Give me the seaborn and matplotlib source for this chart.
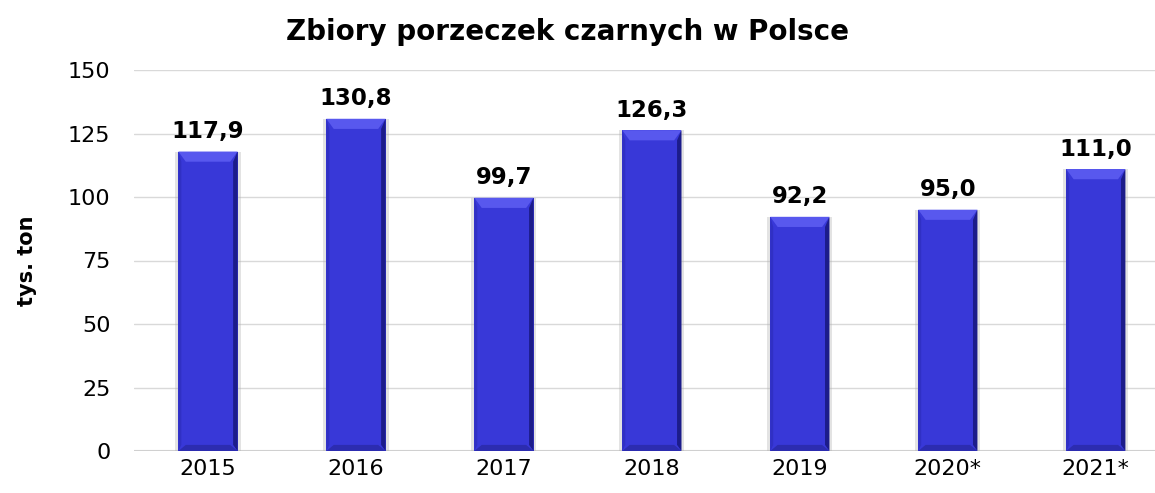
import matplotlib
matplotlib.use("Agg")
import matplotlib.pyplot as plt
import seaborn as sns
import pandas as pd
from matplotlib.patches import Polygon, Rectangle

# Zbiory porzeczek czarnych (tys. ton)
lata = ['2015', '2016', '2017', '2018', '2019', '2020*', '2021*']
zbiory = [117.9, 130.8, 99.7, 126.3, 92.2, 95.0, 111.0]
etykiety = ['117,9', '130,8', '99,7', '126,3', '92,2', '95,0', '111,0']
y_ticks = [0, 25, 50, 75, 100, 125, 150]

df = pd.DataFrame({'Rok': lata, 'Zbiory': zbiory})

sns.set_style("white")
plt.rcParams['font.family'] = ['DejaVu Sans']
plt.rcParams['text.color'] = 'black'
plt.rcParams['axes.labelcolor'] = 'black'

fig = plt.figure(figsize=(11.55, 4.93), dpi=100)
ax = fig.add_axes([134 / 1155, 42 / 493, 1021 / 1155, 381 / 493])

kolor = '#3838d8'
sns.barplot(data=df, x='Rok', y='Zbiory', color=kolor, width=0.4,
            saturation=1, ax=ax, zorder=3)

ax.set_xlim(-0.5, 6.4)
ax.set_ylim(0, 150)
ax.set_yticks(y_ticks)

# efekt fazowania słupków
bx, by = 0.05, 4.0
for p in ax.patches[:]:
    p.set_edgecolor('none')
    x0, y0 = p.get_x(), p.get_y()
    x1, y1 = x0 + p.get_width(), y0 + p.get_height()
    ax.add_patch(Rectangle((x0 - 0.02, y0), (x1 - x0) + 0.04, y1 - y0,
                           color='#b0b0b0', alpha=0.35, zorder=2, lw=0))
    ax.add_patch(Polygon([(x0, y1), (x1, y1), (x1 - bx, y1 - by), (x0 + bx, y1 - by)],
                         color='#5858ee', zorder=4, lw=0))
    ax.add_patch(Polygon([(x1, y1), (x1, y0), (x1 - bx * 0.6, y0 + by * 0.6), (x1 - bx * 0.6, y1 - by)],
                         color='#1c1c8a', zorder=4, lw=0))
    ax.add_patch(Polygon([(x0, y0), (x1, y0), (x1 - bx, y0 + by * 0.6), (x0 + bx, y0 + by * 0.6)],
                         color='#2c2cb0', zorder=4, lw=0))
    ax.add_patch(Polygon([(x0, y0), (x0, y1), (x0 + bx * 0.4, y1 - by), (x0 + bx * 0.4, y0 + by * 0.6)],
                         color='#3030c4', zorder=4, lw=0))

ax.bar_label(ax.containers[0], labels=etykiety, padding=6,
             fontsize=16.5, fontweight='bold', color='black')

ax.grid(axis='y', color='#d9d9d9', linewidth=1, zorder=0)
ax.axhline(0, color='#d0d0d0', linewidth=1.5, zorder=1)
sns.despine(ax=ax, left=True, bottom=True)
ax.tick_params(axis='both', length=0, labelsize=16, colors='black')
ax.tick_params(axis='x', pad=6)
ax.tick_params(axis='y', pad=17)

ax.set_xlabel('')
ax.set_ylabel('tys. ton', fontsize=15, fontweight='bold', labelpad=22)
fig.text(568 / 1155, 1 - 32 / 493, 'Zbiory porzeczek czarnych w Polsce',
         ha='center', va='center', fontsize=20, fontweight='bold', color='black')

fig.savefig('out.png', dpi=100)
